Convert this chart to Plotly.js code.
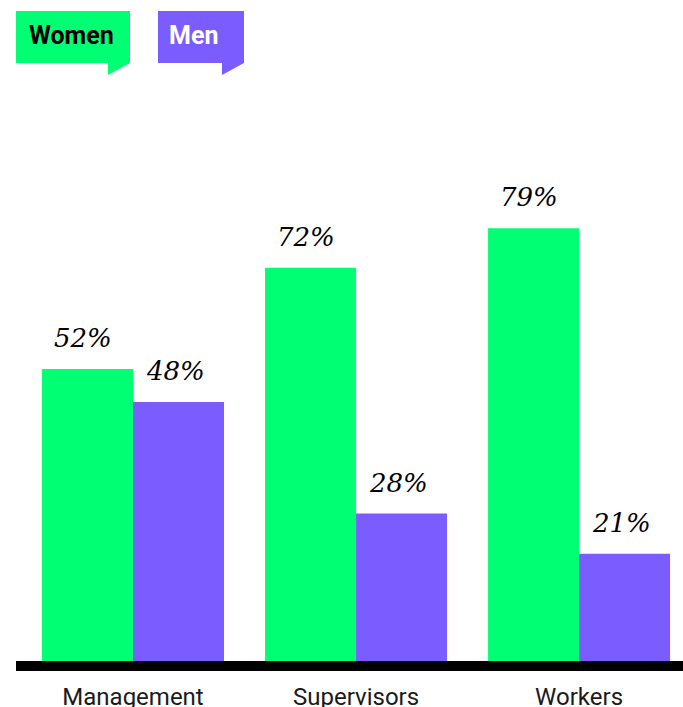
<!DOCTYPE html>
<html>
<head>
<meta charset="utf-8">
<script src="https://cdn.plot.ly/plotly-3.0.1.min.js"></script>
<style>html,body{margin:0;padding:0;background:#fff;}#chart{width:683px;height:707px;}</style>
</head>
<body>
<div id="chart"></div>
<script>
// Data
const categories = ["Management", "Supervisors", "Workers"];
const seriesNames = ["Women", "Men"];
const womenLabels = [52, 72, 79];
const menLabels = [48, 28, 21];
// bar heights as drawn in the picture (in % units)
const womenBars = [53.1, 71.5, 78.7];
const menBars = [47.1, 26.8, 19.5];

const GREEN = "#00FF73";
const PURPLE = "#7B5CFF";

const W = 683, H = 707;
const M = {l: 16, r: 0, t: 101, b: 46};
const PW = W - M.l - M.r, PH = H - M.t - M.b;
// helpers to convert pixel positions to paper coordinates (for decorations only)
const px = x => (x - M.l) / PW;
const py = y => (H - M.b - y) / PH;

const traces = [
  {type: "bar", name: seriesNames[0], x: categories, y: womenBars,
   marker: {color: GREEN, line: {width: 0}}, hoverinfo: "skip"},
  {type: "bar", name: seriesNames[1], x: categories, y: menBars,
   marker: {color: PURPLE, line: {width: 0}}, hoverinfo: "skip"}
];

const labelFont = {family: "DejaVu Serif, serif", size: 26, color: "#000"};
const annotations = [];
categories.forEach((c, i) => {
  annotations.push({x: c, y: womenBars[i], xref: "x", yref: "y", text: "<i>" + womenLabels[i] + "%</i>",
    showarrow: false, xanchor: "center", yanchor: "bottom", xshift: -50, yshift: 14, font: labelFont});
  annotations.push({x: c, y: menBars[i], xref: "x", yref: "y", text: "<i>" + menLabels[i] + "%</i>",
    showarrow: false, xanchor: "center", yanchor: "bottom", xshift: 42, yshift: 14, font: labelFont});
});

// legend bubbles
function bubble(x0, x1, color) {
  const y0 = 11, y1 = 63, tailX = x1 - 22, tailY = 75;
  return {type: "path", xref: "paper", yref: "paper", layer: "above",
    path: `M ${px(x0)} ${py(y0)} L ${px(x1)} ${py(y0)} L ${px(x1)} ${py(y1)} L ${px(tailX)} ${py(tailY)} L ${px(tailX)} ${py(y1)} L ${px(x0)} ${py(y1)} Z`,
    fillcolor: color, line: {width: 0}};
}
const shapes = [bubble(16, 130, GREEN), bubble(158, 244, PURPLE)];
annotations.push({xref: "paper", yref: "paper", x: px(27), y: py(36), xanchor: "left", yanchor: "middle",
  text: "<b>" + seriesNames[0] + "</b>", showarrow: false, font: {family: "Roboto", size: 25, color: "#000", weight: 900}});
annotations.push({xref: "paper", yref: "paper", x: px(167), y: py(36), xanchor: "left", yanchor: "middle",
  text: "<b>" + seriesNames[1] + "</b>", showarrow: false, font: {family: "Roboto", size: 25, color: "#fff", weight: 900}});

const layout = {
  width: W, height: H,
  margin: M,
  paper_bgcolor: "#fff", plot_bgcolor: "#fff",
  showlegend: false,
  barmode: "group",
  bargap: 0.184, bargroupgap: 0,
  xaxis: {type: "category", range: [-0.5247, 2.466], showline: true, linecolor: "#000", linewidth: 10,
    ticks: "", showgrid: false, zeroline: false, fixedrange: true, ticklabelstandoff: 5,
    tickfont: {family: "Roboto", size: 24, color: "#1a1a1a"}},
  yaxis: {range: [0, PH / 5.5], visible: false, showgrid: false, zeroline: false, fixedrange: true},
  shapes: shapes,
  annotations: annotations
};

Plotly.newPlot("chart", traces, layout, {displayModeBar: false, staticPlot: true});
</script>
</body>
</html>
